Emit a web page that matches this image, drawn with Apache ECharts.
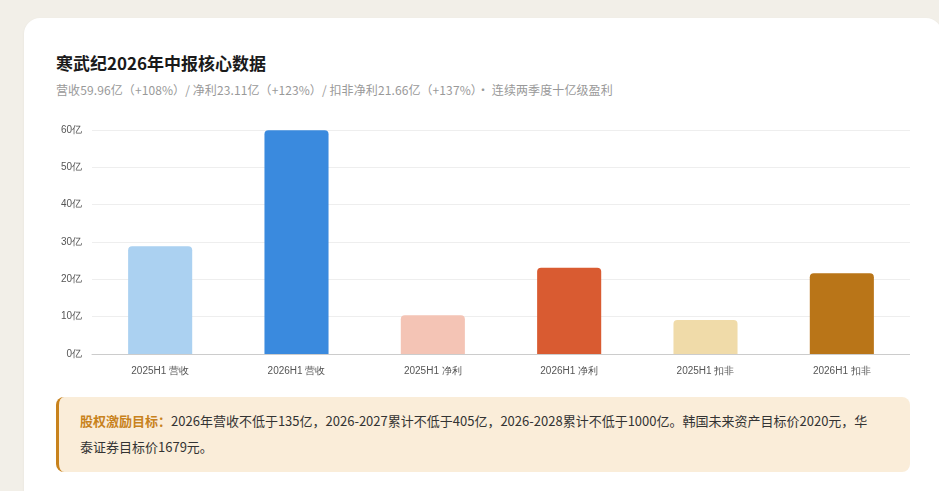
<!DOCTYPE html>
<html>
<head>
<meta charset="utf-8">
<script src="https://cdn.jsdelivr.net/npm/echarts@6/dist/echarts.min.js"></script>
<style>
  html, body { margin: 0; padding: 0; }
  body {
    width: 939px; height: 491px; overflow: hidden;
    background: #f2efe8;
    font-family: "Noto Sans CJK SC", "Noto Sans", sans-serif;
  }
  .card {
    position: absolute; left: 24px; top: 18px;
    width: 918px; height: 520px;
    background: #fff; border-radius: 16px;
    box-shadow: 0 1px 3px rgba(0,0,0,0.05);
  }
  .title {
    position: absolute; left: 32px; top: 32px;
    font-size: 17px; font-weight: bold; color: #1a1a1a;
  }
  .sub {
    position: absolute; left: 32px; top: 63px;
    font-size: 12px; letter-spacing: 0.1px; color: #999;
  }
  #chart {
    position: absolute; left: 32px; top: 94px;
    width: 854px; height: 275px;
  }
  .note {
    position: absolute; left: 32px; top: 379px;
    width: 854px; height: 75px; box-sizing: border-box;
    padding: 11px 20px 0 21px;
    background: #faedd9; border-left: 3px solid #c8821c;
    border-radius: 8px;
    font-size: 13px; line-height: 26px; color: #333;
  }
  .note span { display: block; max-width: 800px; }
  .note b { color: #c8821c; }
</style>
</head>
<body>
<div class="card">
  <div class="title">寒武纪2026年中报核心数据</div>
  <div class="sub">营收59.96亿（+108%）/ 净利23.11亿（+123%）/ 扣非净利21.66亿（+137%）· 连续两季度十亿级盈利</div>
  <div id="chart"></div>
  <div class="note"><span><b>股权激励目标：</b>2026年营收不低于135亿，2026-2027累计不低于405亿，2026-2028累计不低于1000亿。韩国未来资产目标价2020元，华泰证券目标价1679元。</span></div>
</div>
<script>
// 数据（亿元）
const categories = ['2025H1 营收', '2026H1 营收', '2025H1 净利', '2026H1 净利', '2025H1 扣非', '2026H1 扣非'];
const values = [28.83, 59.96, 10.36, 23.11, 9.14, 21.66];
const barColors = ['#abd1f1', '#3a8ade', '#f4c4b5', '#d95b31', '#f0dba9', '#b97518'];

const myChart = echarts.init(document.getElementById('chart'));
const option = {
  animation: false,
  grid: { left: 36, right: 0, top: 18, bottom: 33 },
  xAxis: {
    type: 'category',
    data: categories,
    axisLine: { lineStyle: { color: '#ccc' } },
    axisTick: { show: false },
    axisLabel: { color: '#555', fontSize: 10, margin: 12 }
  },
  yAxis: {
    type: 'value',
    min: 0, max: 60, interval: 10,
    axisLine: { show: false },
    axisTick: { show: false },
    splitLine: { lineStyle: { color: '#eee' } },
    axisLabel: { color: '#555', fontSize: 10, formatter: '{value}亿', margin: 10 }
  },
  series: [{
    type: 'bar',
    barWidth: '47%',
    data: values.map((v, i) => ({ value: v, itemStyle: { color: barColors[i] } })),
    itemStyle: { borderRadius: [4, 4, 0, 0] }
  }]
};
myChart.setOption(option);
</script>
</body>
</html>
